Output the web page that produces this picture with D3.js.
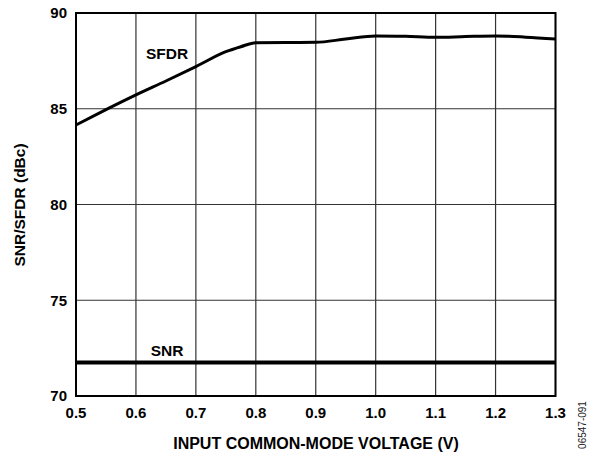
<!DOCTYPE html>
<html><head><meta charset="utf-8">
<script src="https://cdn.jsdelivr.net/npm/d3@7"></script>
<style>body{margin:0;background:#fff}svg{display:block}text{font-family:Arial,"Liberation Sans",sans-serif}</style>
</head><body>
<script>
const voltage = [0.5,0.55,0.6,0.65,0.7,0.75,0.775,0.8,0.85,0.9,0.95,1.0,1.05,1.1,1.15,1.2,1.25,1.3];
const sfdr = [84.15,84.95,85.72,86.45,87.2,87.98,88.24,88.45,88.46,88.47,88.64,88.8,88.78,88.73,88.77,88.8,88.74,88.64];
const snrX = [0.5,1.3];
const snr = [71.75,71.75];
const xTicks = [0.5,0.6,0.7,0.8,0.9,1.0,1.1,1.2,1.3];
const yTicks = [70,75,80,85,90];

const W=592,H=454;
const svg=d3.select("body").append("svg").attr("width",W).attr("height",H);
const x=d3.scaleLinear().domain([0.5,1.3]).range([76,555.5]);
const y=d3.scaleLinear().domain([70,90]).range([396,13]);

const g=svg.append("g");
g.selectAll("line.v").data(xTicks).join("line").attr("x1",d=>x(d)).attr("x2",d=>x(d)).attr("y1",y(90)).attr("y2",y(70)).attr("stroke","#333").attr("stroke-width",1.2);
g.selectAll("line.h").data(yTicks).join("line").attr("y1",d=>y(d)).attr("y2",d=>y(d)).attr("x1",x(0.5)).attr("x2",x(1.3)).attr("stroke","#333").attr("stroke-width",1.2);
g.append("rect").attr("x",x(0.5)).attr("y",y(90)).attr("width",x(1.3)-x(0.5)).attr("height",y(70)-y(90)).attr("fill","none").attr("stroke","#000").attr("stroke-width",2);

const line=d3.line().x(d=>x(d[0])).y(d=>y(d[1])).curve(d3.curveMonotoneX);
g.append("path").attr("d",line(voltage.map((v,i)=>[v,sfdr[i]]))).attr("fill","none").attr("stroke","#000").attr("stroke-width",3);
g.append("path").attr("d",line(snrX.map((v,i)=>[v,snr[i]]))).attr("fill","none").attr("stroke","#000").attr("stroke-width",4);

const fs="15px";
g.selectAll("text.yt").data(yTicks).join("text").attr("x",67).attr("y",d=>y(d)).attr("dy","0.35em").attr("text-anchor","end").attr("font-size",fs).attr("font-weight","bold").text(d=>d);
g.selectAll("text.xt").data(xTicks).join("text").attr("x",d=>x(d)).attr("y",413).attr("dy","0.35em").attr("text-anchor","middle").attr("font-size",fs).attr("font-weight","bold").text(d=>d.toFixed(1));

svg.append("text").attr("x",316).attr("y",443).attr("dy","0.35em").attr("text-anchor","middle").attr("font-size","16px").attr("font-weight","bold").text("INPUT COMMON-MODE VOLTAGE (V)");
svg.append("text").attr("transform","translate(20,205) rotate(-90)").attr("dy","0.35em").attr("text-anchor","middle").attr("font-size","15.5px").attr("font-weight","bold").text("SNR/SFDR (dBc)");
svg.append("text").attr("x",167).attr("y",54).attr("dy","0.35em").attr("text-anchor","middle").attr("font-size","15.5px").attr("font-weight","bold").text("SFDR");
svg.append("text").attr("x",167).attr("y",351).attr("dy","0.35em").attr("text-anchor","middle").attr("font-size","15.5px").attr("font-weight","bold").text("SNR");
svg.append("text").attr("transform","translate(582,425) rotate(-90)").attr("dy","0.35em").attr("text-anchor","middle").attr("font-size","10px").attr("fill","#222").text("06547-091");
</script>
</body></html>
